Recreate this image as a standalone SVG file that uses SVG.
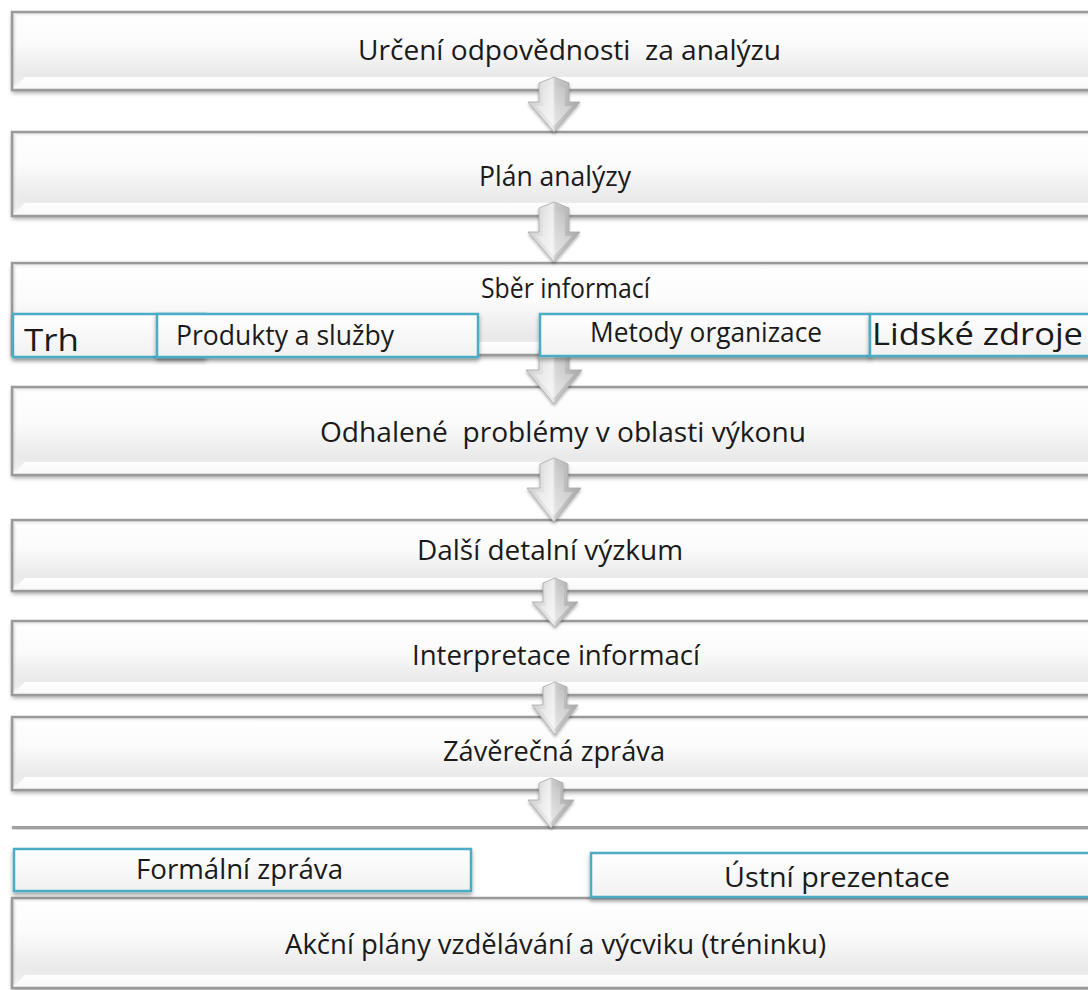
<svg xmlns="http://www.w3.org/2000/svg" width="1088" height="990" viewBox="0 0 1088 990">
<defs>
<linearGradient id="face" x1="0" y1="0" x2="0" y2="1">
<stop offset="0" stop-color="#ffffff"/><stop offset="0.4" stop-color="#fbfbfb"/><stop offset="0.8" stop-color="#e9e9e9"/><stop offset="1" stop-color="#f4f4f4"/>
</linearGradient>
<linearGradient id="bevT" x1="0" y1="0" x2="0" y2="1">
<stop offset="0" stop-color="#cfcfcf"/><stop offset="1" stop-color="#ffffff" stop-opacity="0"/>
</linearGradient>
<linearGradient id="bevL" x1="0" y1="0" x2="1" y2="0">
<stop offset="0" stop-color="#bdbdbd"/><stop offset="1" stop-color="#ffffff" stop-opacity="0"/>
</linearGradient>
<linearGradient id="bevB" x1="0" y1="0" x2="0" y2="1">
<stop offset="0" stop-color="#ffffff"/><stop offset="1" stop-color="#f7f7f7"/>
</linearGradient>
<linearGradient id="sub" x1="0" y1="0" x2="0" y2="1">
<stop offset="0" stop-color="#ffffff"/><stop offset="1" stop-color="#f1f1f1"/>
</linearGradient>
<linearGradient id="arr" x1="0" y1="0" x2="1" y2="0">
<stop offset="0" stop-color="#cfcfcf"/><stop offset="0.47" stop-color="#ededed"/><stop offset="0.53" stop-color="#c9c9c9"/><stop offset="1" stop-color="#a9a9a9"/>
</linearGradient>
<linearGradient id="arrIn" x1="0" y1="0" x2="0" y2="1">
<stop offset="0" stop-color="#ffffff" stop-opacity="0.05"/><stop offset="1" stop-color="#ffffff" stop-opacity="0.55"/>
</linearGradient>
<filter id="sh" x="-5%" y="-30%" width="110%" height="160%">
<feDropShadow dx="0" dy="3" stdDeviation="2" flood-color="#000" flood-opacity="0.35"/>
</filter>
<filter id="shA" x="-50%" y="-20%" width="200%" height="150%">
<feDropShadow dx="0" dy="2" stdDeviation="1.5" flood-color="#000" flood-opacity="0.3"/>
</filter>
</defs>
<style>
.face{fill:url(#face);filter:url(#sh);}
.bt{fill:url(#bevT);}
.bl{fill:url(#bevL);}
.bb{fill:url(#bevB);}
.ol{fill:none;stroke:#9a9a9a;stroke-width:2.5;}
.sub{fill:url(#sub);stroke:#4bacc6;stroke-width:2.5;filter:url(#sh);}
.arrow{fill:url(#arr);stroke:#a8a8a8;stroke-width:0.8;filter:url(#shA);}
.arrIn{fill:url(#arrIn);}
text{font-family:"Open Sans","Liberation Sans",sans-serif;font-size:28px;fill:#1a1a1a;white-space:pre;}
.big{font-size:31px;}
</style>
<rect width="1088" height="990" fill="#ffffff"/>

<g id="n1">
<rect class="face" x="12" y="12" width="1080" height="78"/>
<path class="bt" d="M12 12 L1092 12 L1092 18 L18 18 Z"/>
<path class="bl" d="M12 12 L18 18 L18 77 L12 90 Z"/>
<path class="bb" d="M12 90 L25 77 L1092 77 L1092 90 Z"/>
<rect class="ol" x="12" y="12" width="1080" height="78"/>
<text x="358" y="60" textLength="423" lengthAdjust="spacingAndGlyphs">Určení odpovědnosti  za analýzu</text>
</g>

<g id="n2">
<rect class="face" x="12" y="132" width="1080" height="84"/>
<path class="bt" d="M12 132 L1092 132 L1092 138 L18 138 Z"/>
<path class="bl" d="M12 132 L18 138 L18 203 L12 216 Z"/>
<path class="bb" d="M12 216 L25 203 L1092 203 L1092 216 Z"/>
<rect class="ol" x="12" y="132" width="1080" height="84"/>
<text x="479" y="186" textLength="152" lengthAdjust="spacingAndGlyphs">Plán analýzy</text>
</g>

<g id="n3">
<rect class="face" x="12" y="263" width="1080" height="92"/>
<path class="bt" d="M12 263 L1092 263 L1092 269 L18 269 Z"/>
<path class="bl" d="M12 263 L18 269 L18 342 L12 355 Z"/>
<path class="bb" d="M12 355 L25 342 L1092 342 L1092 355 Z"/>
<rect class="ol" x="12" y="263" width="1080" height="92"/>
<text x="481" y="298" textLength="169" lengthAdjust="spacingAndGlyphs">Sběr informací</text>
</g>

<g id="n4">
<rect class="face" x="12" y="387" width="1080" height="88"/>
<path class="bt" d="M12 387 L1092 387 L1092 393 L18 393 Z"/>
<path class="bl" d="M12 387 L18 393 L18 462 L12 475 Z"/>
<path class="bb" d="M12 475 L25 462 L1092 462 L1092 475 Z"/>
<rect class="ol" x="12" y="387" width="1080" height="88"/>
<text x="320" y="442" textLength="486" lengthAdjust="spacingAndGlyphs">Odhalené  problémy v oblasti výkonu</text>
</g>

<g id="n5">
<rect class="face" x="12" y="520" width="1080" height="71"/>
<path class="bt" d="M12 520 L1092 520 L1092 526 L18 526 Z"/>
<path class="bl" d="M12 520 L18 526 L18 578 L12 591 Z"/>
<path class="bb" d="M12 591 L25 578 L1092 578 L1092 591 Z"/>
<rect class="ol" x="12" y="520" width="1080" height="71"/>
<text x="417" y="560" textLength="266" lengthAdjust="spacingAndGlyphs">Další detalní výzkum</text>
</g>

<g id="n6">
<rect class="face" x="12" y="621" width="1080" height="74"/>
<path class="bt" d="M12 621 L1092 621 L1092 627 L18 627 Z"/>
<path class="bl" d="M12 621 L18 627 L18 682 L12 695 Z"/>
<path class="bb" d="M12 695 L25 682 L1092 682 L1092 695 Z"/>
<rect class="ol" x="12" y="621" width="1080" height="74"/>
<text x="412" y="665" textLength="288" lengthAdjust="spacingAndGlyphs">Interpretace informací</text>
</g>

<g id="n7">
<rect class="face" x="12" y="717" width="1080" height="73"/>
<path class="bt" d="M12 717 L1092 717 L1092 723 L18 723 Z"/>
<path class="bl" d="M12 717 L18 723 L18 777 L12 790 Z"/>
<path class="bb" d="M12 790 L25 777 L1092 777 L1092 790 Z"/>
<rect class="ol" x="12" y="717" width="1080" height="73"/>
<text x="443" y="761" textLength="222" lengthAdjust="spacingAndGlyphs">Závěrečná zpráva</text>
</g>

<g id="n8">
<rect x="12" y="826" width="1080" height="3" fill="#a0a0a0" filter="url(#sh)"/>
</g>

<g id="n9">
<rect class="face" x="12" y="898" width="1080" height="90"/>
<path class="bt" d="M12 898 L1092 898 L1092 904 L18 904 Z"/>
<path class="bl" d="M12 898 L18 904 L18 975 L12 988 Z"/>
<path class="bb" d="M12 988 L25 975 L1092 975 L1092 988 Z"/>
<rect class="ol" x="12" y="898" width="1080" height="90"/>
<text x="285" y="954" textLength="541" lengthAdjust="spacingAndGlyphs">Akční plány vzdělávání a výcviku (tréninku)</text>
</g>

<g id="connectors">
<path class="arrow" d="M539 83 L554 77 L569 83 L569 102 L580 102 L554 132 L528 102 L539 102 Z"/>
<path class="arrIn" d="M543 88 L554 84 L565 88 L565 106 L572 106 L554 126 L536 106 L543 106 Z"/>
<path class="arrow" d="M539 208 L554 202 L569 208 L569 232 L580 232 L554 262 L528 232 L539 232 Z"/>
<path class="arrIn" d="M543 213 L554 209 L565 213 L565 236 L572 236 L554 256 L536 236 L543 236 Z"/>
<path class="arrow" d="M539 350 L554 344 L569 350 L569 370 L582 370 L554 404 L526 370 L539 370 Z"/>
<path class="arrIn" d="M543 355 L554 351 L565 355 L565 374 L574 374 L554 398 L534 374 L543 374 Z"/>
<path class="arrow" d="M540 464 L554 458 L568 464 L568 488 L581 488 L554 522 L527 488 L540 488 Z"/>
<path class="arrIn" d="M544 469 L554 465 L564 469 L564 492 L573 492 L554 516 L535 492 L544 492 Z"/>
<path class="arrow" d="M543 583 L555 578 L567 583 L567 602 L578 602 L555 627 L532 602 L543 602 Z"/>
<path class="arrIn" d="M546 587 L555 584 L564 587 L564 606 L570 606 L555 622 L540 606 L546 606 Z"/>
<path class="arrow" d="M543 687 L555 682 L567 687 L567 705 L578 705 L555 735 L532 705 L543 705 Z"/>
<path class="arrIn" d="M546 691 L555 688 L564 691 L564 709 L570 709 L555 729 L540 709 L546 709 Z"/>
<path class="arrow" d="M539 783 L551 778 L563 783 L563 800 L574 800 L551 828 L528 800 L539 800 Z"/>
<path class="arrIn" d="M542 787 L551 784 L560 787 L560 804 L566 804 L551 822 L536 804 L542 804 Z"/>
</g>

<g id="s1">
<rect class="sub" x="13" y="314" width="192" height="43"/>
<text class="big" x="24" y="351" textLength="55" lengthAdjust="spacingAndGlyphs">Trh</text>
</g>
<g id="s2">
<rect class="sub" x="157" y="314" width="321" height="43"/>
<text x="176" y="345" textLength="218" lengthAdjust="spacingAndGlyphs">Produkty a služby</text>
</g>
<g id="s3">
<rect class="sub" x="540" y="314" width="330" height="42"/>
<text x="590" y="342" textLength="232" lengthAdjust="spacingAndGlyphs">Metody organizace</text>
</g>
<g id="s4">
<rect class="sub" x="870" y="314" width="222" height="42"/>
<text class="big" x="872" y="345" textLength="211" lengthAdjust="spacingAndGlyphs">Lidské zdroje</text>
</g>
<g id="s5">
<rect class="sub" x="14" y="849" width="457" height="42"/>
<text x="136" y="879" textLength="207" lengthAdjust="spacingAndGlyphs">Formální zpráva</text>
</g>
<g id="s6">
<rect class="sub" x="591" y="853" width="501" height="44"/>
<text x="724" y="887" textLength="226" lengthAdjust="spacingAndGlyphs">Ústní prezentace</text>
</g>
</svg>
